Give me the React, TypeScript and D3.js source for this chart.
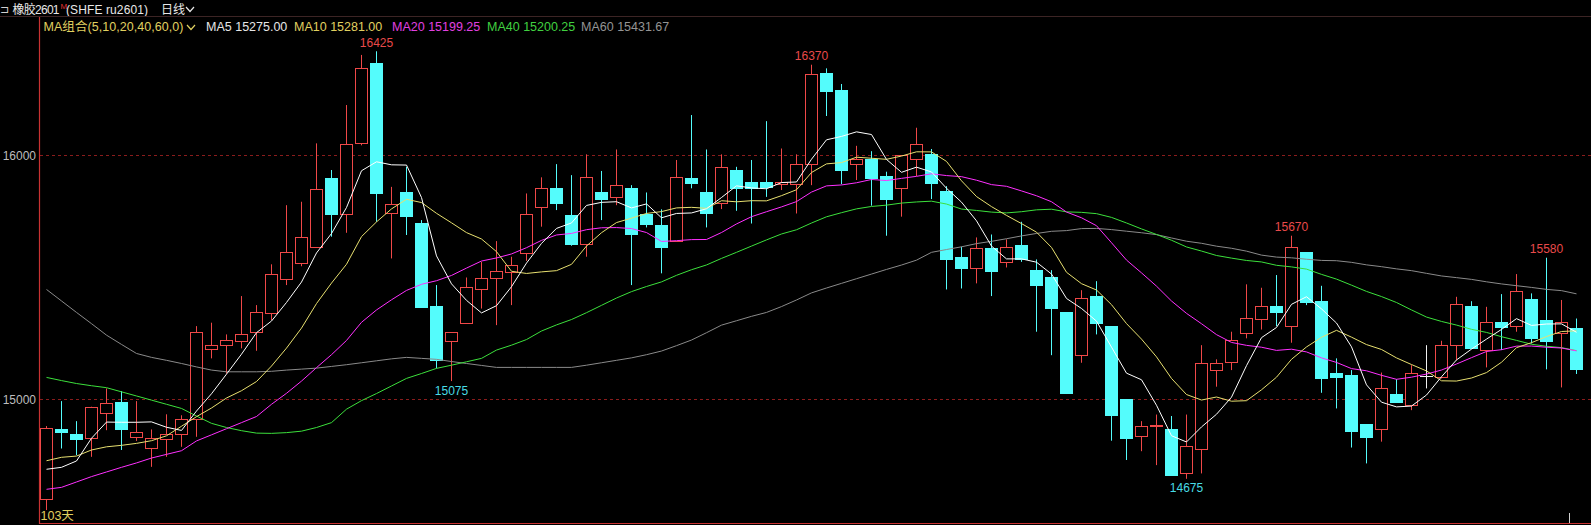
import React from 'react';
import * as d3 from 'd3';

// ---------------- data ----------------
const opens = [
  14591, 14877, 14857, 14844, 14943, 14989, 14847, 14803, 14836, 14857,
  14918, 15205, 15222, 15240, 15277, 15352, 15491, 15559, 15625, 15905,
  15757, 16050, 16378, 15765, 15847, 15723, 15382, 15240, 15311, 15450,
  15495, 15522, 15600, 15786, 15864, 15754, 15638, 15850, 15829, 15864,
  15757, 15714, 15649, 15905, 15847, 15802, 15941, 15888, 15888, 15881,
  15881, 15962, 16338, 16266, 15962, 15986, 15914, 15864, 15982, 16003,
  15853, 15581, 15536, 15618, 15561, 15632, 15529, 15499, 15356, 15181,
  15423, 15300, 15001, 14851, 14890, 14877, 14697, 14799, 15120, 15154,
  15273, 15331, 15382, 15300, 15602, 15402, 15110, 15100, 14898, 14877,
  15022, 14977, 15097, 15093, 15222, 15382, 15202, 15315, 15300, 15409,
  15325, 15273, 15291,
];
const highs = [
  14891, 14993, 14911, 14970, 15045, 15034, 14993, 14877, 14939, 14935,
  15300, 15314, 15266, 15423, 15386, 15553, 15795, 15809, 16048, 15939,
  16205, 16410, 16425, 15870, 15952, 15734, 15468, 15274, 15499, 15563,
  15648, 15584, 15843, 15909, 15963, 15918, 16003, 15935, 16023, 15877,
  15847, 15778, 15980, 16164, 16023, 16003, 15952, 15980, 16139, 16027,
  16003, 16370, 16355, 16291, 16038, 16016, 15932, 16000, 16112, 16025,
  15873, 15625, 15663, 15675, 15655, 15727, 15573, 15529, 15356, 15447,
  15484, 15300, 15001, 14911, 14938, 14932, 14938, 15222, 15164, 15277,
  15471, 15457, 15509, 15670, 15602, 15465, 15168, 15120, 14898, 15110,
  15083, 15140, 15222, 15240, 15420, 15402, 15379, 15431, 15513, 15434,
  15580, 15407, 15331,
];
const lows = [
  14547, 14799, 14772, 14765, 14874, 14793, 14830, 14724, 14765, 14806,
  14847, 15168, 15106, 15209, 15199, 15325, 15468, 15545, 15620, 15666,
  15682, 16040, 15727, 15577, 15673, 15376, 15127, 15075, 15311, 15372,
  15304, 15386, 15567, 15707, 15775, 15629, 15584, 15734, 15795, 15468,
  15704, 15516, 15645, 15864, 15704, 15779, 15772, 15720, 15829, 15857,
  15761, 15877, 16160, 15881, 15898, 15793, 15670, 15748, 15914, 15820,
  15450, 15454, 15475, 15423, 15540, 15563, 15277, 15181, 15022, 15150,
  15266, 14831, 14752, 14788, 14731, 14690, 14675, 14697, 15052, 15120,
  15250, 15286, 15300, 15232, 15386, 15027, 14963, 14803, 14738, 14827,
  14986, 14956, 15045, 15086, 15161, 15211, 15131, 15202, 15277, 15229,
  15123, 15049, 15104,
];
const closes = [
  14881, 14868, 14836, 14967, 14984, 14877, 14868, 14844, 14857, 14919,
  15274, 15222, 15245, 15266, 15359, 15512, 15602, 15663, 15861, 15757,
  16044, 16355, 15846, 15799, 15752, 15379, 15161, 15274, 15461, 15495,
  15527, 15550, 15757, 15864, 15802, 15638, 15909, 15820, 15877, 15675,
  15720, 15625, 15909, 15887, 15761, 15950, 15864, 15866, 15870, 15888,
  15962, 16330, 16263, 15939, 15982, 15907, 15820, 16000, 16044, 15884,
  15573, 15536, 15618, 15527, 15622, 15573, 15468, 15376, 15027, 15417,
  15314, 14936, 14843, 14892, 14895, 14690, 14809, 15151, 15151, 15245,
  15335, 15382, 15359, 15625, 15400, 15086, 15093, 14872, 14847, 15045,
  14990, 15110, 15097, 15222, 15389, 15211, 15315, 15295, 15443, 15250,
  15240, 15318, 15123,
];

// moving-average values at the left edge, where the window reaches before the visible days
const ma5Head = [14714, 14722, 14748, 14841];
const ma10Head = [14749, 14763, 14768, 14793, 14806, 14812, 14820, 14831, 14851];
const ma20Head = [
  14632, 14640, 14662, 14684, 14703, 14722, 14740, 14760, 14775, 14790,
  14830, 14855, 14880, 14905, 14930, 14980, 15025, 15075, 15130,
];
const ma40Head = [
  15090, 15077, 15065, 15056, 15048, 15031, 15014, 14997, 14980, 14963,
  14932, 14902, 14885, 14872, 14862, 14861, 14864, 14870, 14885, 14905,
  14960, 14995, 15024, 15055, 15086, 15106, 15127, 15140, 15154, 15168,
  15202, 15222, 15245, 15280, 15305, 15327, 15355, 15385, 15415,
];
const ma60Head = [
  15450, 15403, 15356, 15310, 15263, 15225, 15188, 15172, 15160, 15147,
  15133, 15120, 15113, 15113, 15113, 15115, 15120, 15124, 15128, 15135,
  15142, 15150, 15158, 15166, 15172, 15168, 15164, 15155, 15147, 15139,
  15131, 15131, 15131, 15131, 15131, 15131, 15140, 15150, 15160, 15170,
  15183, 15198, 15220, 15243, 15273, 15304, 15322, 15340, 15356, 15380,
  15407, 15436, 15456, 15475, 15494, 15513, 15532, 15550, 15570,
];

const maPeriods = [5, 10, 20, 40, 60];
const maHeads = [ma5Head, ma10Head, ma20Head, ma40Head, ma60Head];
const maLegendValues = ['15275.00', '15281.00', '15199.25', '15200.25', '15431.67'];
const yTicks = [15000, 16000];
const highMarks = [22, 51, 83, 100];
const lowMarks = [27, 76];
const titleText = '橡胶2601';
const titleCode = '(SHFE ru2601)';
const periodText = '日线';
const maGroupText = 'MA组合(5,10,20,40,60,0)';
const dayCountText = '103天';

// ---------------- styles ----------------
const W = 1591;
const H = 525;
const FONT = '"Liberation Sans", Arial, "Noto Sans CJK SC", sans-serif';
const UP = '#f04848';
const DOWN = '#54fcfc';
const maColors = ['#ffffff', '#e8e070', '#ff30ff', '#3ce03c', '#8a8a8a'];
const maLegendColors = ['#e6e6e6', '#e0d060', '#e040e0', '#40d040', '#949494'];
const maLegendX = [206, 294, 392, 487, 581];

function movingAverage(period: number, head: number[]): number[] {
  return closes.map((_, i) =>
    i >= period - 1 ? (d3.mean(closes.slice(i - period + 1, i + 1)) as number) : head[i]
  );
}

export default function App() {
  const n = closes.length;
  const left = 39.2;
  const x = d3.scaleBand<number>().domain(d3.range(n)).range([left, left + n * 15]).padding(0);
  const y = d3.scaleLinear().domain([14490, 16553]).range([524, 20]);
  const cx = (i: number) => Math.floor((x(i) as number) + x.bandwidth() / 2) + 0.5;

  const mas = maPeriods.map((p, k) => movingAverage(p, maHeads[k]));
  const line = d3
    .line<number>()
    .x((_, i) => cx(i))
    .y((v) => y(v));

  const candles = d3.range(n).map((i) => {
    const o = opens[i];
    const c = closes[i];
    const c0 = cx(i);
    const yH = y(highs[i]);
    const yL = y(lows[i]);
    if (o === c) {
      const yy = Math.round(y(o)) + 0.5;
      return (
        <g key={i}>
          <line x1={c0} x2={c0} y1={yH} y2={yL} stroke="#f0f0f0" strokeWidth={1} />
          <line x1={c0 - 6.5} x2={c0 + 6.5} y1={yy} y2={yy} stroke="#f0f0f0" strokeWidth={1} />
        </g>
      );
    }
    const top = Math.round(y(Math.max(o, c)));
    const bot = Math.round(y(Math.min(o, c)));
    if (c > o) {
      return (
        <g key={i}>
          <line x1={c0} x2={c0} y1={yH} y2={yL} stroke={UP} strokeWidth={1} />
          <rect
            x={c0 - 6}
            y={top + 0.5}
            width={12}
            height={Math.max(bot - top, 1)}
            fill="#000"
            stroke={UP}
            strokeWidth={1}
          />
        </g>
      );
    }
    return (
      <g key={i}>
        <line x1={c0} x2={c0} y1={yH} y2={yL} stroke={DOWN} strokeWidth={1} />
        <rect x={c0 - 6.5} y={top} width={13} height={Math.max(bot - top + 1, 2)} fill={DOWN} />
      </g>
    );
  });

  return (
    <svg
      width={W}
      height={H}
      style={{ position: 'absolute', left: 0, top: 0, display: 'block', background: '#000' }}
      fontFamily={FONT}
    >
      <rect x={0} y={0} width={W} height={H} fill="#000" />

      {/* header */}
      <text x={0} y={13} fontSize={11} fill="#d0d0d0">⊐</text>
      <text x={12.5} y={13.5} fontSize={12} fill="#e8e8e8" textLength={47} lengthAdjust="spacing">
        {titleText}
      </text>
      <text x={60.5} y={9} fontSize={8} fill="#e03030">M</text>
      <text x={66} y={13.5} fontSize={12} fill="#e8e8e8" textLength={82} lengthAdjust="spacing">
        {titleCode}
      </text>
      <text x={161} y={13.5} fontSize={12} fill="#e8e8e8">{periodText}</text>
      <path d="M186,7 L190,11.5 L194,7" fill="none" stroke="#e8e8e8" strokeWidth={1.2} />
      <line x1={0} x2={W} y1={16.5} y2={16.5} stroke="#3c2424" strokeWidth={1} />

      {/* grid */}
      {yTicks.map((t) => (
        <g key={t}>
          <line
            x1={40}
            x2={W}
            y1={Math.round(y(t)) + 0.5}
            y2={Math.round(y(t)) + 0.5}
            stroke="#8a1c1c"
            strokeWidth={1}
            strokeDasharray="3,3"
          />
          <text x={36} y={y(t) + 4.5} fontSize={12} fill="#bdbdbd" textAnchor="end">
            {t}
          </text>
        </g>
      ))}

      {/* axes */}
      <line x1={39.5} x2={39.5} y1={17} y2={524} stroke="#c83232" strokeWidth={1.2} />
      <line x1={39} x2={W} y1={523.5} y2={523.5} stroke="#c83232" strokeWidth={1.2} />

      {/* candles */}
      {candles}

      {/* moving averages */}
      {mas
        .map((vals, k) => (
          <path key={k} d={line(vals) as string} fill="none" stroke={maColors[k]} strokeWidth={1} />
        ))
        .reverse()}

      {/* extreme labels */}
      {highMarks.map((i) => (
        <text key={'h' + i} x={cx(i)} y={y(highs[i]) - 4.5} fontSize={12} fill="#e84a4a" textAnchor="middle">
          {highs[i]}
        </text>
      ))}
      {lowMarks.map((i) => (
        <text key={'l' + i} x={cx(i)} y={y(lows[i]) + 13.5} fontSize={12} fill="#48dce6" textAnchor="middle">
          {lows[i]}
        </text>
      ))}

      {/* MA legend */}
      <text x={43.5} y={31} fontSize={12.5} fill="#e0d060" textLength={140} lengthAdjust="spacing">
        {maGroupText}
      </text>
      <path d="M187,25 L191,29.5 L195,25" fill="none" stroke="#e0d060" strokeWidth={1.2} />
      {maPeriods.map((p, k) => (
        <text key={p} x={maLegendX[k]} y={31} fontSize={12.5} fill={maLegendColors[k]}>
          {`MA${p} ${maLegendValues[k]}`}
        </text>
      ))}

      {/* footer */}
      <text x={40.5} y={520} fontSize={12.5} fill="#e0d060">{dayCountText}</text>
      <line x1={1569.5} x2={1569.5} y1={513} y2={523} stroke="#d0d0d0" strokeWidth={1} />
    </svg>
  );
}
